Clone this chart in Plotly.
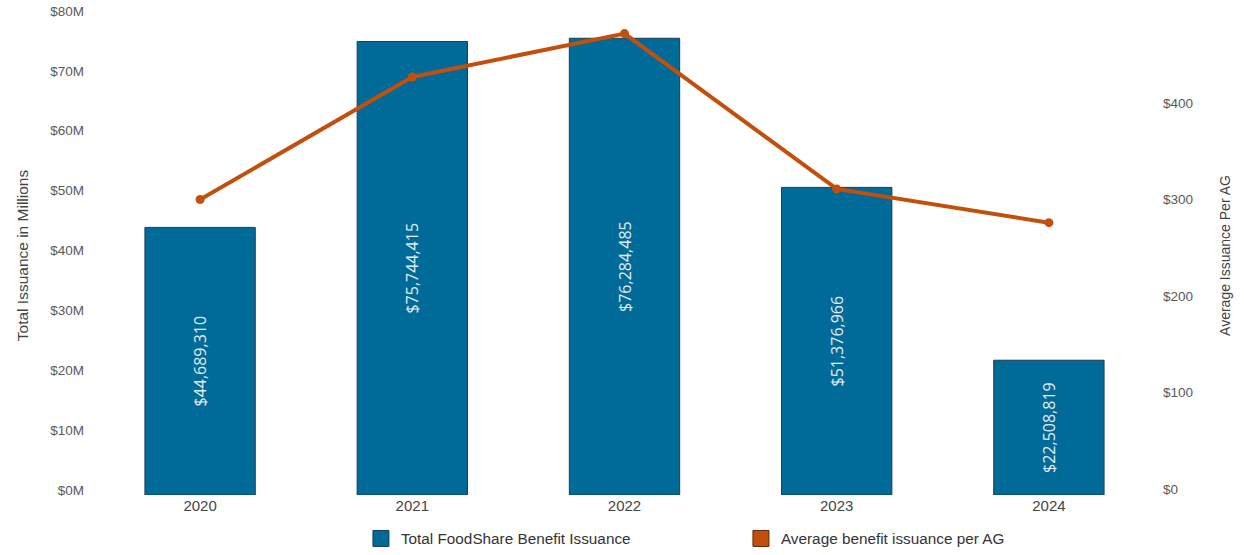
import plotly.graph_objects as go

years = ["2020", "2021", "2022", "2023", "2024"]
total_issuance = [44689310, 75744415, 76284485, 51376966, 22508819]
avg_per_ag = [300, 427, 472, 311, 276]

left_ticks = [0, 10e6, 20e6, 30e6, 40e6, 50e6, 60e6, 70e6, 80e6]
left_tick_text = ["$0M", "$10M", "$20M", "$30M", "$40M", "$50M", "$60M", "$70M", "$80M"]
right_ticks = [0, 100, 200, 300, 400]
right_tick_text = ["$0", "$100", "$200", "$300", "$400"]

BAR = "#006a99"
BAR_EDGE = "#1d3c50"
LINE = "#c2500c"
LINE_EDGE = "#5a2a0a"
GREY = "#595959"

bar_labels = ["${:,}".format(v) for v in total_issuance]

fig = go.Figure()

fig.add_trace(go.Bar(
    x=years, y=total_issuance, name="Total FoodShare Benefit Issuance",
    marker=dict(color=BAR, line=dict(color=BAR_EDGE, width=1)),
    text=bar_labels, textposition="inside", insidetextanchor="middle",
    textangle=-90, textfont=dict(family="Open Sans", size=16, color="#e3edf3"),
    yaxis="y", showlegend=False,
))

fig.add_trace(go.Scatter(
    x=years, y=avg_per_ag, name="Average benefit issuance per AG",
    mode="lines+markers", line=dict(color=LINE, width=4),
    marker=dict(color=LINE, size=9), yaxis="y2", showlegend=False,
))

# square legend keys for both series
for name, fill, edge in [("Total FoodShare Benefit Issuance", BAR, BAR_EDGE),
                         ("Average benefit issuance per AG", LINE, LINE_EDGE)]:
    fig.add_trace(go.Scatter(
        x=[years[0]], y=[None], name=name, mode="markers",
        marker=dict(symbol="square", size=16, color=fill, line=dict(color=edge, width=1)),
        yaxis="y2", hoverinfo="skip",
    ))

fig.update_layout(
    width=1244, height=555,
    margin=dict(l=94, r=89, t=16, b=60),
    paper_bgcolor="white", plot_bgcolor="white",
    font=dict(family="Liberation Sans, Arial, sans-serif", size=13, color=GREY),
    barmode="overlay", bargap=0.48,
    showlegend=True,
    legend=dict(orientation="h", xref="paper", x=0.2516, xanchor="left",
                yref="container", y=0.0, yanchor="bottom",
                entrywidth=335, font=dict(size=15.3, color="#333333"),
                itemsizing="trace"),
    xaxis=dict(type="category", showgrid=False, showline=False, ticks="",
               automargin=False, tickfont=dict(size=15, color="#444444")),
    yaxis=dict(range=[0, 80e6], tickvals=left_ticks, ticktext=left_tick_text,
               showgrid=False, zeroline=False, showline=False, automargin=False,
               ticklabelstandoff=9, ticklabelshift=-5,
               tickfont=dict(size=13.5, color=GREY),
               title=dict(text="Total Issuance in Millions", standoff=17,
                          font=dict(size=15.5, color="#444444"))),
    yaxis2=dict(range=[-6.2, 490.2], tickvals=right_ticks, ticktext=right_tick_text,
                overlaying="y", side="right",
                showgrid=False, zeroline=False, showline=False, automargin=False,
                ticklabelstandoff=7,
                tickfont=dict(size=13.5, color=GREY),
                title=dict(text="Average Issuance Per AG", standoff=28,
                           font=dict(size=14, color="#444444"))),
)

fig.write_html("out.html")
